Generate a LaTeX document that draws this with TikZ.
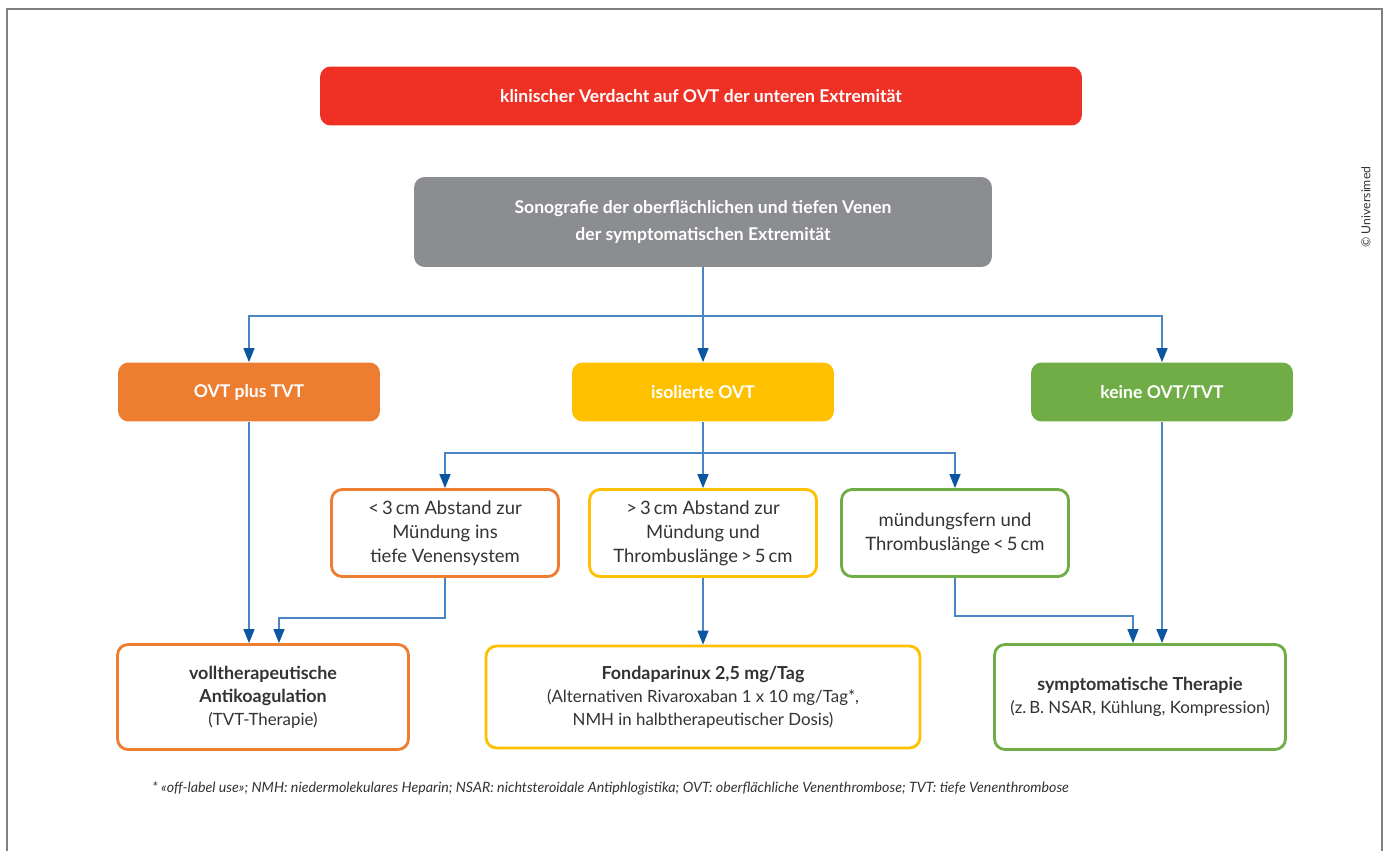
\documentclass[tikz,border=0pt]{standalone}
\usepackage{fontspec}
\setmainfont{Lato}
\usetikzlibrary{arrows.meta, positioning, calc}

\definecolor{ovtred}{HTML}{EE3124}
\definecolor{ovtgray}{HTML}{8C8D91}
\definecolor{ovtorange}{HTML}{ED7D31}
\definecolor{ovtyellow}{HTML}{FFC000}
\definecolor{ovtgreen}{HTML}{70AD47}
\definecolor{lineblue}{HTML}{4A86C5}
\definecolor{tipblue}{HTML}{0A56A0}
\definecolor{txtgray}{HTML}{333333}

\newcommand{\titel}[1]{{\fontsize{10.2}{13}\selectfont\bfseries #1}}

\begin{document}
\begin{tikzpicture}[x=0.02cm, y=-0.02cm,
    % Define styles
    box/.style={rectangle, rounded corners=6pt, align=center, inner sep=2pt},
    head/.style={box, fill=#1, text=white, font=\fontsize{10}{15.5}\selectfont\bfseries},
    category/.style={minimum width=5.24cm, minimum height=1.18cm},
    finding/.style={box, draw=#1, line width=1.6pt, fill=white, text=txtgray, minimum width=4.54cm, minimum height=1.74cm, font=\fontsize{10.5}{13.6}\selectfont},
    therapy/.style={box, draw=#1, line width=1.6pt, fill=white, text=txtgray, minimum height=2.1cm, font=\fontsize{9.6}{13}\selectfont},
    line/.style={draw=lineblue, line width=0.8pt},
    arrow/.style={line, -{Triangle[length=0.28cm, width=0.22cm, color=tipblue]}},
    ]

    \useasboundingbox (0,0) rectangle (1389,851);
    % Frame
    \draw[gray, line width=1pt] (7,851) |- (1382,9) -- (1382,851);

    % Main nodes
    \node[head=ovtred, minimum width=15.24cm, minimum height=1.18cm] (verdacht) at (701,96) {klinischer Verdacht auf OVT der unteren Extremität};
    \node[head=ovtgray, minimum width=11.56cm, minimum height=1.8cm] (sono) at (703,222) {Sonografie der oberflächlichen und tiefen Venen\\der symptomatischen Extremität};

    % Befunde
    \node[head=ovtorange, category] (plus) at (249,392) {OVT plus TVT};
    \node[head=ovtyellow, category] (isoliert) at (703,392) {isolierte OVT};
    \node[head=ovtgreen, category] (keine) at (1162,392) {keine OVT/TVT};

    % Lage der OVT
    \node[finding=ovtorange] (nah) at (445,533) {<\,3\,cm Abstand zur\\Mündung ins\\tiefe Venensystem};
    \node[finding=ovtyellow] (fern) at (703,533) {>\,3\,cm Abstand zur\\Mündung und\\Thrombuslänge\,>\,5\,cm};
    \node[finding=ovtgreen] (kurz) at (955,533) {mündungsfern und\\Thrombuslänge\,<\,5\,cm};

    % Therapie
    \node[therapy=ovtorange, minimum width=5.82cm] (antiko) at (263,697) {\titel{volltherapeutische}\\\titel{Antikoagulation}\\(TVT-Therapie)};
    \node[therapy=ovtyellow, minimum width=8.68cm, minimum height=2.04cm] (fonda) at (703,697) {\titel{Fondaparinux 2,5 mg/Tag}\\(Alternativen Rivaroxaban 1 x 10 mg/Tag*,\\NMH in halbtherapeutischer Dosis)};
    \node[therapy=ovtgreen, minimum width=5.82cm] (sympto) at (1140,697) {\titel{symptomatische Therapie}\\(z.\,B. NSAR, Kühlung, Kompression)};

    % Legende
    \node[anchor=west, text=txtgray, font=\fontsize{8.1}{9}\selectfont\itshape] (legende) at (146,788) {* «off-label use»; NMH: niedermolekulares Heparin; NSAR: nichtsteroidale Antiphlogistika; OVT: oberflächliche Venenthrombose; TVT: tiefe Venenthrombose};
    \node[rotate=90, text=txtgray, font=\fontsize{7}{8}\selectfont] (copy) at (1366,207) {\textcopyright{} Universimed};

    % Arrows
    \coordinate (gabel1) at (703,316);
    \draw[line] (sono.south) -- (gabel1);
    \draw[arrow] (gabel1) -| (plus.north);
    \draw[arrow] (gabel1) -- (isoliert.north);
    \draw[arrow] (gabel1) -| (keine.north);

    \coordinate (gabel2) at (703,453);
    \draw[line] (isoliert.south) -- (gabel2);
    \draw[arrow] (gabel2) -| (nah.north);
    \draw[arrow] (gabel2) -- (fern.north);
    \draw[arrow] (gabel2) -| (kurz.north);

    \draw[arrow] (plus.south) -- (plus.south |- antiko.north);
    \draw[arrow] (nah.south) -- ++(0,40) -| ($(antiko.north)+(16,0)$);
    \draw[arrow] (fern.south) -- (fonda.north);
    \draw[arrow] (kurz.south) -- ++(0,38) -| ($(sympto.north)+(-7,0)$);
    \draw[arrow] (keine.south) -- (keine.south |- sympto.north);

\end{tikzpicture}
\end{document}
